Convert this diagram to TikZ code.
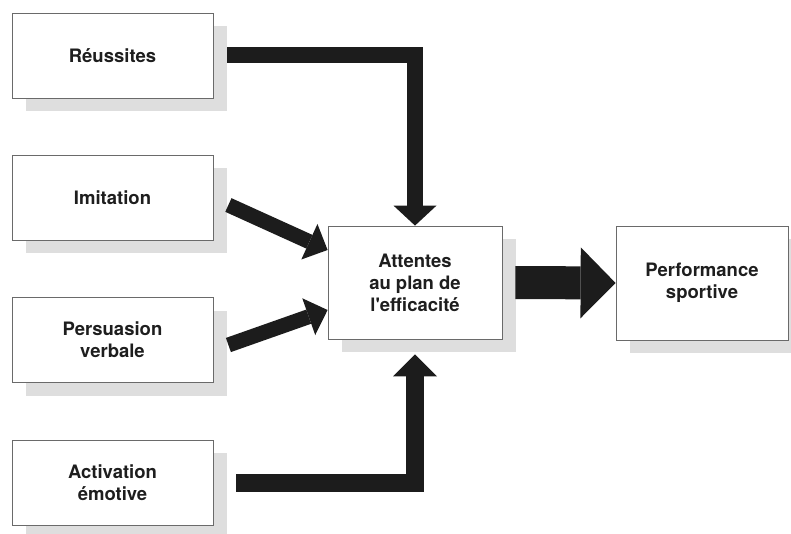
\documentclass[tikz,border=0pt]{standalone}
\usepackage{fontspec}
\setmainfont{TeX Gyre Heros}[Ligatures=TeXOff]
\usetikzlibrary{arrows.meta,shadows}
\definecolor{ink}{HTML}{1C1C1C}
\definecolor{frame}{HTML}{6A6A6A}
\definecolor{shade}{HTML}{DEDEDE}
\definecolor{label}{HTML}{1E1E1E}
\tikzset{
  box/.style={draw=frame, line width=0.8pt, fill=white, rectangle,
    minimum width=201pt, minimum height=85pt, inner sep=0pt,
    align=center, text=label,
    font=\bfseries\fontsize{18.5}{22}\selectfont,
    general shadow={shadow xshift=14pt, shadow yshift=-13pt, fill=shade}},
  flow/.style={draw=ink, line join=miter},
}
\begin{document}
\begin{tikzpicture}[x=1pt, y=-1pt]
  \useasboundingbox (0,0) rectangle (791,534);

  % source boxes on the left
  \node[box] (reu) at (112.5,55.5)  {Réussites};
  \node[box] (imi) at (112.5,197.5) {Imitation};
  \node[box] (per) at (112.5,340)   {Persuasion\\verbale};
  \node[box] (act) at (112.5,482.5) {Activation\\émotive};

  % central and outcome boxes
  \node[box, minimum width=174pt, minimum height=113pt] (att) at (415,282.5)
    {Attentes\\au plan de\\l'efficacité};
  \node[box, minimum width=172pt, minimum height=114pt] (perf) at (702,283)
    {Performance\\sportive};

  % heavy arrows into the central box
  \draw[flow, line width=16pt, -{Triangle[length=20pt,width=43pt,line width=0pt]}]
    ([xshift=14pt]reu.east) -| (att.north);
  \draw[flow, line width=15pt, -{Triangle[length=20pt,width=39pt,line width=0pt]}]
    ([xshift=15pt,yshift=-7.5pt]imi.east) -- ([yshift=32.5pt]att.west);
  \draw[flow, line width=15pt, -{Triangle[length=20pt,width=39pt,line width=0pt]}]
    ([xshift=15pt,yshift=-5pt]per.east) -- ([yshift=-27.5pt]att.west);
  \draw[flow, line width=18pt, -{Triangle[length=22pt,width=44pt,line width=0pt]}]
    ([xshift=23pt]act.east) -| ([yshift=-15pt]att.south);

  % outcome arrow
  \draw[flow, line width=33pt, -{Triangle[length=35pt,width=71pt,line width=0pt]}]
    ([xshift=13pt]att.east) -- (perf.west);
\end{tikzpicture}
\end{document}
